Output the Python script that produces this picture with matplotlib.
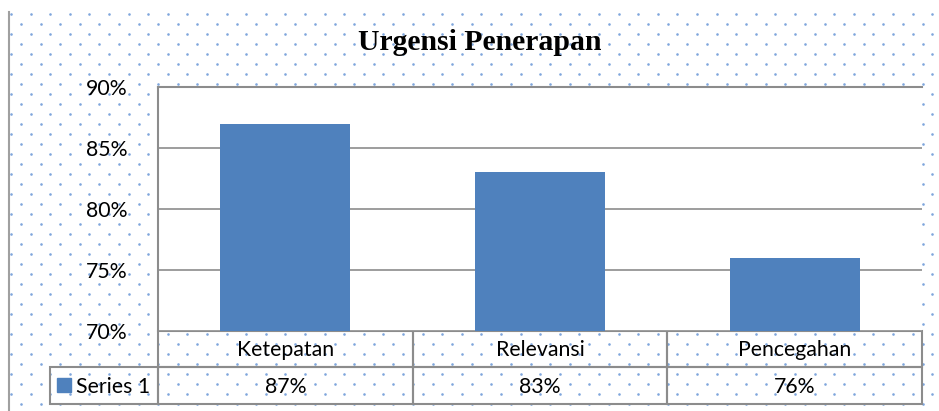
import matplotlib
matplotlib.use("Agg")
import matplotlib.pyplot as plt
from matplotlib.patches import Rectangle
import numpy as np

categories = ['Ketepatan', 'Relevansi', 'Pencegahan']
values = [87, 83, 76]
series_name = 'Series 1'
yticks = [70, 75, 80, 85, 90]

bar_color = '#4F81BD'
grid_color = '#8C8C8C'
dot_color = '#7FA6DC'
font = 'Lato'
fs = 15.3

W, H = 939, 411
fig = plt.figure(figsize=(W / 100, H / 100), dpi=100)

# background in pixel coordinates (dot pattern + borders + table)
bg = fig.add_axes([0, 0, 1, 1])
bg.set_xlim(0, W)
bg.set_ylim(H, 0)
bg.axis('off')

xs, ys = [], []
for i, yy in enumerate(np.arange(14, H, 10)):
    off = 0 if i % 2 == 0 else 10
    for xx in np.arange(11 + off, W, 19.6):
        xs.append(xx)
        ys.append(yy)
bg.scatter(xs, ys, s=3.5, color=dot_color, linewidths=0, zorder=1)
bg.plot([9, 9], [12, H], color='#A0A0A0', lw=1.5, zorder=2)

# plot area
left, top, right, bottom = 158, 87, 922, 331
ax = fig.add_axes([left / W, 1 - bottom / H, (right - left) / W, (bottom - top) / H])
ax.set_facecolor('white')
x = np.arange(len(categories))
ax.bar(x, values, width=0.51, color=bar_color, zorder=3)
ax.set_xlim(-0.5, len(categories) - 0.5)
ax.set_ylim(70, 90)
ax.set_yticks(yticks)
ax.set_yticklabels([f'{t}%' for t in yticks], fontsize=fs, family=font)
ax.tick_params(axis='y', length=0, pad=22)
ax.set_xticks([])
ax.yaxis.grid(True, color=grid_color, lw=1.2, zorder=0)
for s in ['right', 'bottom']:
    ax.spines[s].set_visible(False)
ax.spines['left'].set_color(grid_color)
ax.spines['left'].set_linewidth(1.5)
ax.spines['top'].set_color(grid_color)
ax.spines['top'].set_linewidth(1.5)

# data table under the plot
cw = (right - left) / len(categories)
r1, r2, r3 = 331, 367, 404
for i, (cat, v) in enumerate(zip(categories, values)):
    cx = left + i * cw
    bg.add_patch(Rectangle((cx, r1), cw, r2 - r1, fill=False, ec=grid_color, lw=1.5, zorder=3))
    bg.add_patch(Rectangle((cx, r2), cw, r3 - r2, fill=False, ec=grid_color, lw=1.5, zorder=3))
    bg.text(cx + cw / 2, (r1 + r2) / 2 + 1, cat, ha='center', va='center', fontsize=fs, family=font, zorder=4)
    bg.text(cx + cw / 2, (r2 + r3) / 2 + 1, f'{v}%', ha='center', va='center', fontsize=fs, family=font, zorder=4)
bg.add_patch(Rectangle((50, r2), left - 50, r3 - r2, fill=False, ec=grid_color, lw=1.5, zorder=3))
bg.add_patch(Rectangle((57, 378), 14, 14, color=bar_color, zorder=4))
bg.text(76, (r2 + r3) / 2 + 1, series_name, ha='left', va='center', fontsize=fs, family=font, zorder=4)

fig.text(480 / W, 1 - 43 / H, 'Urgensi Penerapan', ha='center', va='center',
         fontsize=21.4, fontweight='bold', family='Liberation Serif')

fig.savefig('out.png', dpi=100)
